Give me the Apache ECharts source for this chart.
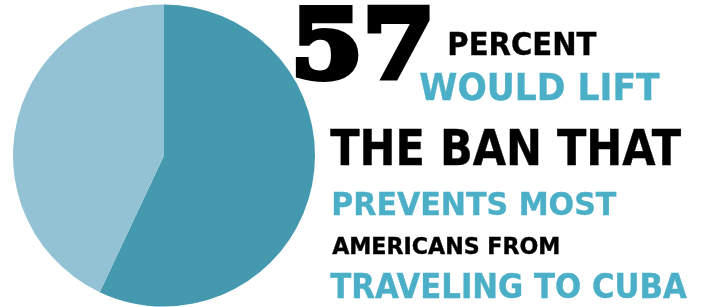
<!DOCTYPE html>
<html>
<head>
<meta charset="utf-8">
<script src="https://cdn.jsdelivr.net/npm/echarts@6/dist/echarts.min.js"></script>
<style>
  html, body { margin: 0; padding: 0; background: #fff; }
  #chart { width: 704px; height: 307px; }
</style>
</head>
<body>
<div id="chart"></div>
<script>
// pie data
const pieNames = ['Would lift the ban', 'Would not']
const pieValues = [57, 43]
const pieColors = ['#4499af', '#93c2d4']

// headline text, one entry per line
const headline = '57'
const textLines = ['PERCENT', 'WOULD LIFT', 'THE BAN THAT', 'PREVENTS MOST', 'AMERICANS FROM', 'TRAVELING TO CUBA']

// ink boxes of each text line [left, top, width, height] and colour
const black = '#000000'
const teal = '#4bafc8'
const headBox = [295, 6, 135, 77]
const lineBoxes = [
  [449, 31, 148, 25],
  [420, 71, 240, 30],
  [330, 128, 352, 37],
  [333, 191, 284, 25],
  [332, 237, 227, 17],
  [330, 273, 357, 26],
]
const lineColors = [black, teal, black, teal, black, teal]

const sansFont = "'Liberation Sans Narrow', 'DejaVu Sans Condensed', 'Liberation Sans', sans-serif"
const serifFont = "'DejaVu Serif', 'Liberation Serif', serif"

const measureCtx = document.createElement('canvas').getContext('2d')

// fit a text line to its ink box by scaling it; lw thickens the glyphs
function fitText(str, box, family, color, lw) {
  const [left, top, w, h] = box
  const size = Math.round(h / 0.72)
  const font = 'bold ' + size + 'px ' + family
  measureCtx.font = font
  measureCtx.textBaseline = 'middle'
  const m = measureCtx.measureText(str)
  const inkW = m.actualBoundingBoxLeft + m.actualBoundingBoxRight + lw
  const inkH = m.actualBoundingBoxAscent + m.actualBoundingBoxDescent + lw
  const sx = w / inkW
  const sy = h / inkH
  return {
    type: 'text',
    x: left + (m.actualBoundingBoxLeft + lw / 2) * sx,
    y: top + (m.actualBoundingBoxAscent + lw / 2) * sy,
    scaleX: sx,
    scaleY: sy,
    z: 100,
    silent: true,
    style: {
      text: str,
      x: 0,
      y: 0,
      font: font,
      fill: color,
      stroke: lw > 0 ? color : null,
      lineWidth: lw,
      lineJoin: 'round',
      align: 'left',
      verticalAlign: 'middle',
      textAlign: 'left',
      textVerticalAlign: 'middle',
    },
  }
}

const graphics = [fitText(headline, headBox, serifFont, black, 7)]
textLines.forEach((t, i) => {
  graphics.push(fitText(t, lineBoxes[i], sansFont, lineColors[i], 0.4))
})

const myChart = echarts.init(document.getElementById('chart'))

const option = {
  backgroundColor: '#ffffff',
  animation: false,
  graphic: { elements: graphics },
  series: [
    {
      type: 'pie',
      center: [164, 155.5],
      radius: 151,
      startAngle: 90,
      clockwise: true,
      silent: true,
      label: { show: false },
      labelLine: { show: false },
      emphasis: { disabled: true },
      data: pieNames.map((n, i) => ({
        name: n,
        value: pieValues[i],
        itemStyle: { color: pieColors[i] },
      })),
    },
  ],
}

myChart.setOption(option)
</script>
</body>
</html>
